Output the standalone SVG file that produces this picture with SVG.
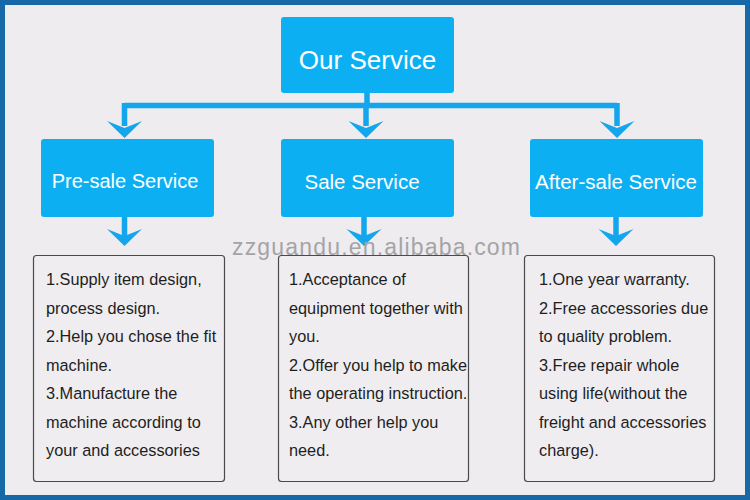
<svg xmlns="http://www.w3.org/2000/svg" width="750" height="500" viewBox="0 0 750 500">
<defs>
<style>
.frame{fill:#1668a6}
.bg{fill:#eeecef}
.node{fill:#0cb0f2}
.title{font-family:"Liberation Sans",Arial,sans-serif;fill:#ffffff;text-anchor:middle}
.box{fill:#efedf0;stroke:#4a4a4a;stroke-width:1.2}
.body{font-family:"Liberation Sans",Arial,sans-serif;font-size:16.3px;fill:#1e1e1e}
.wire{fill:none;stroke:#14a6ec;stroke-width:5.5}
.head{fill:#14a6ec}
</style>
</defs>
<rect class="frame" x="0" y="0" width="750" height="500"/>
<rect class="bg" x="5" y="5" width="740" height="490"/>

<g id="connectors">
<path class="wire" d="M367,92 V105.5 M124.5,105.5 H617 M124.5,103 V126 M366,105.5 V126 M617,103 V126"/>
<path class="head" d="M124.5,138 L107,121 L124.5,128 L142,121 Z"/>
<path class="head" d="M366,138 L348.5,121 L366,128 L383.5,121 Z"/>
<path class="head" d="M617,138 L599.5,121 L617,128 L634.5,121 Z"/>
<path class="wire" d="M124.5,216 V236 M364,216 V236 M616,216 V236"/>
<path class="head" d="M124.5,246 L107,229 L124.5,236 L142,229 Z"/>
<path class="head" d="M364,246 L346.5,229 L364,236 L381.5,229 Z"/>
<path class="head" d="M616,246 L598.5,229 L616,236 L633.5,229 Z"/>
</g>

<g id="our-service">
<rect class="node" x="281" y="17" width="173" height="76" rx="3"/>
<text class="title" x="367.5" y="69" font-size="26">Our Service</text>
</g>

<g id="pre-sale">
<rect class="node" x="41" y="139" width="173" height="78" rx="3"/>
<text class="title" x="125" y="188" font-size="20">Pre-sale Service</text>
</g>

<g id="sale">
<rect class="node" x="281" y="139" width="173" height="78" rx="3"/>
<text class="title" x="362" y="189" font-size="20.5">Sale Service</text>
</g>

<g id="after-sale">
<rect class="node" x="530" y="139" width="173" height="78" rx="3"/>
<text class="title" x="616" y="189" font-size="20.5">After-sale Service</text>
</g>

<text x="232" y="255" font-family="Liberation Sans, Arial, sans-serif" font-size="23" fill="#a4a4a6" textLength="288" lengthAdjust="spacing">zzguandu.en.alibaba.com</text>

<g id="pre-sale-details">
<rect class="box" x="33.5" y="255.5" width="191" height="226" rx="3"/>
<text class="body" x="46">
<tspan x="46" y="285">1.Supply item design,</tspan>
<tspan x="46" y="313.5">process design.</tspan>
<tspan x="46" y="342">2.Help you chose the fit</tspan>
<tspan x="46" y="370.5">machine.</tspan>
<tspan x="46" y="399">3.Manufacture the</tspan>
<tspan x="46" y="427.5">machine according to</tspan>
<tspan x="46" y="456">your and accessories</tspan>
</text>
</g>

<g id="sale-details">
<rect class="box" x="278.5" y="255.5" width="190" height="226" rx="3"/>
<text class="body" x="289">
<tspan x="289" y="285">1.Acceptance of</tspan>
<tspan x="289" y="313.5">equipment together with</tspan>
<tspan x="289" y="342">you.</tspan>
<tspan x="289" y="370.5">2.Offer you help to make</tspan>
<tspan x="289" y="399">the operating instruction.</tspan>
<tspan x="289" y="427.5">3.Any other help you</tspan>
<tspan x="289" y="456">need.</tspan>
</text>
</g>

<g id="after-sale-details">
<rect class="box" x="524.5" y="255.5" width="190" height="226" rx="3"/>
<text class="body" x="539">
<tspan x="539" y="285">1.One year warranty.</tspan>
<tspan x="539" y="313.5">2.Free accessories due</tspan>
<tspan x="539" y="342">to quality problem.</tspan>
<tspan x="539" y="370.5">3.Free repair whole</tspan>
<tspan x="539" y="399">using life(without the</tspan>
<tspan x="539" y="427.5">freight and accessories</tspan>
<tspan x="539" y="456">charge).</tspan>
</text>
</g>
</svg>
